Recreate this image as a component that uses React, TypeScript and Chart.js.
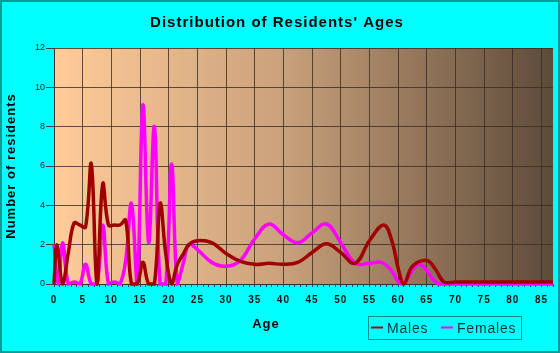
import React, { useEffect, useRef } from "react";
import { Chart, registerables } from "chart.js";

Chart.register(...registerables);

const TITLE = "Distribution of Residents' Ages";
const X_TITLE = "Age";
const Y_TITLE = "Number of residents";
const SERIES_NAMES = ["Males", "Females"];
const SERIES_COLORS = ["#A00000", "#FF00FF"];

const maleAges = [0, 0.5, 1.5, 2.5, 3.5, 4.5, 5.5, 6.5, 7.5, 8.5, 9.5, 10.5, 11.5, 12.5, 13.5, 14.5, 15.5, 16.5, 17.5, 18.5, 19.5, 20.5, 21.5, 22.5, 23.5, 25, 27.5, 30, 32.5, 35, 37.5, 40, 42.5, 45, 47.5, 50, 52.5, 55, 57.5, 59, 60, 61, 62.5, 65, 66.5, 68, 70, 75, 80, 87];
const maleCounts = [0, 2, 0, 1.6, 3.1, 3.0, 2.9, 6.1, 0, 5.1, 3.0, 3.0, 3.0, 3.25, 0, 0, 1.1, 0, 0, 4.1, 1.5, 0, 1.0, 1.5, 2.0, 2.2, 2.1, 1.55, 1.15, 1.0, 1.05, 1.0, 1.1, 1.6, 2.05, 1.6, 1.05, 2.2, 3.0, 2.1, 0.8, 0, 0.9, 1.2, 0.75, 0.1, 0.1, 0.1, 0.1, 0.1];

const femaleAges = [0, 0.75, 1.5, 2.5, 3.5, 4.5, 5.5, 6.5, 7.5, 8.5, 9.5, 10.5, 11.5, 12.5, 13.5, 14.5, 15.5, 16.5, 17.5, 18.5, 19.5, 20.5, 21.5, 22.5, 23.5, 25, 27.5, 30, 32.5, 35, 37.5, 40, 42.5, 45, 47.5, 50, 52.5, 55, 57, 58.5, 60.7, 63.6, 67, 70, 75, 80, 87];
const femaleCounts = [2, 0, 2.1, 0, 0.1, 0, 1.0, 0, 0, 3.0, 0, 0.1, 0, 1.2, 4.1, 0, 9.1, 2.1, 8.0, 0, 0, 6.1, 0, 1.0, 2.0, 1.75, 1.1, 0.9, 1.2, 2.3, 3.05, 2.5, 2.1, 2.6, 3.05, 2.1, 1.05, 1.05, 1.1, 0.8, 0, 1.0, 0, 0, 0, 0, 0];

const X_MIN = 0;
const X_MAX = 87;
const X_LABEL_EVERY = 5;
const Y_MIN = 0;
const Y_MAX = 12;
const Y_STEP = 2;

const FONT = "Arial, 'Liberation Sans', Helvetica, sans-serif";
const GRID = "rgba(55,45,38,0.8)";

export default function App() {
  const ref = useRef<HTMLCanvasElement | null>(null);

  useEffect(() => {
    const canvas = ref.current;
    if (!canvas) return;

    const decor = {
      id: "decor",
      beforeDraw(chart: any) {
        const { ctx, chartArea: a } = chart;
        ctx.save();
        const g = ctx.createLinearGradient(a.left, 0, a.right, 0);
        g.addColorStop(0, "#FFCC99");
        g.addColorStop(0.45, "#CBA27C");
        g.addColorStop(1, "#5D4B3A");
        ctx.fillStyle = g;
        ctx.fillRect(a.left, a.top, a.right - a.left, a.bottom - a.top);
        ctx.restore();
        ctx.letterSpacing = "1px";
      },
      afterDatasetsDraw(chart: any) {
        chart.ctx.letterSpacing = "0px";
      },
      afterDraw(chart: any) {
        const ctx = chart.ctx;
        const a = chart.chartArea;
        ctx.save();
        // x axis title
        ctx.letterSpacing = "1px";
        ctx.font = `bold 13px ${FONT}`;
        ctx.fillStyle = "#000";
        ctx.textAlign = "center";
        ctx.textBaseline = "alphabetic";
        ctx.fillText(X_TITLE, a.left + 212, 328);

        // legend box
        ctx.letterSpacing = "0.8px";
        ctx.strokeStyle = "#0B8A8A";
        ctx.lineWidth = 1;
        ctx.strokeRect(368.5, 316.5, 153, 23);
        const items = chart.data.datasets;
        const swX = [371, 441];
        ctx.font = `14px ${FONT}`;
        ctx.textAlign = "left";
        items.forEach((ds: any, i: number) => {
          ctx.strokeStyle = ds.borderColor;
          ctx.lineWidth = 2;
          ctx.beginPath();
          ctx.moveTo(swX[i], 327.5);
          ctx.lineTo(swX[i] + 12, 327.5);
          ctx.stroke();
          ctx.fillStyle = "#0F2F2F";
          ctx.fillText(ds.label, swX[i] + 16, 332.5);
        });

        // outer border
        ctx.strokeStyle = "#0E9A9A";
        ctx.lineWidth = 2;
        ctx.strokeRect(1, 1, 558, 351);
        ctx.restore();
      },
    };

    const chart = new Chart(canvas, {
      type: "line",
      data: {
        datasets: [
          {
            label: SERIES_NAMES[0],
            data: maleAges.map((x, i) => ({ x, y: maleCounts[i] })),
            borderColor: SERIES_COLORS[0],
            backgroundColor: SERIES_COLORS[0],
            borderWidth: 3.5,
            pointRadius: 0,
            tension: 0.4,
            fill: false,
            clip: 3,
          },
          {
            label: SERIES_NAMES[1],
            data: femaleAges.map((x, i) => ({ x, y: femaleCounts[i] })),
            borderColor: SERIES_COLORS[1],
            backgroundColor: SERIES_COLORS[1],
            borderWidth: 3.5,
            pointRadius: 0,
            tension: 0.4,
            fill: false,
            clip: 3,
          },
        ],
      },
      options: {
        animation: false,
        responsive: false,
        events: [],
        layout: { padding: { left: 0, right: 6, top: 0, bottom: 0 } },
        plugins: {
          legend: { display: false },
          tooltip: { enabled: false },
          title: {
            display: true,
            text: TITLE,
            color: "#000",
            font: { family: FONT, size: 15, weight: "bold" },
            padding: { top: 14, bottom: 16 },
          },
        },
        scales: {
          x: {
            type: "linear",
            min: X_MIN,
            max: X_MAX,
            afterFit: (s: any) => {
              s.height = 69;
            },
            ticks: {
              stepSize: 1,
              autoSkip: false,
              maxRotation: 0,
              padding: 7,
              color: "#111",
              font: { family: FONT, size: 10, weight: "bold" },
              callback: (v: any) => (Number(v) % X_LABEL_EVERY === 0 ? String(v) : ""),
            },
            grid: {
              color: (c: any) => (c.tick && c.tick.value % X_LABEL_EVERY === 0 ? GRID : "rgba(0,0,0,0)"),
              tickColor: "#1D4B55",
              tickLength: 3,
            },
            border: { display: true, color: GRID },
          },
          y: {
            min: Y_MIN,
            max: Y_MAX,
            afterFit: (s: any) => {
              s.width = 54;
            },
            ticks: {
              stepSize: Y_STEP,
              padding: 1,
              color: "#222",
              z: 1,
              font: { family: FONT, size: 9 },
            },
            grid: {
              color: GRID,
              tickColor: "#444",
              tickLength: 8,
            },
            border: { display: true, color: GRID },
            title: {
              display: true,
              text: Y_TITLE,
              color: "#000",
              font: { family: FONT, size: 13, weight: "bold" },
              padding: { top: 4, bottom: 0 },
            },
          },
        },
      },
      plugins: [decor],
    } as any);

    return () => chart.destroy();
  }, []);

  return (
    <div style={{ position: "absolute", left: 0, top: 0, width: 560, height: 353, background: "#00FFFF" }}>
      <canvas ref={ref} width={560} height={353} style={{ display: "block" }} />
    </div>
  );
}
